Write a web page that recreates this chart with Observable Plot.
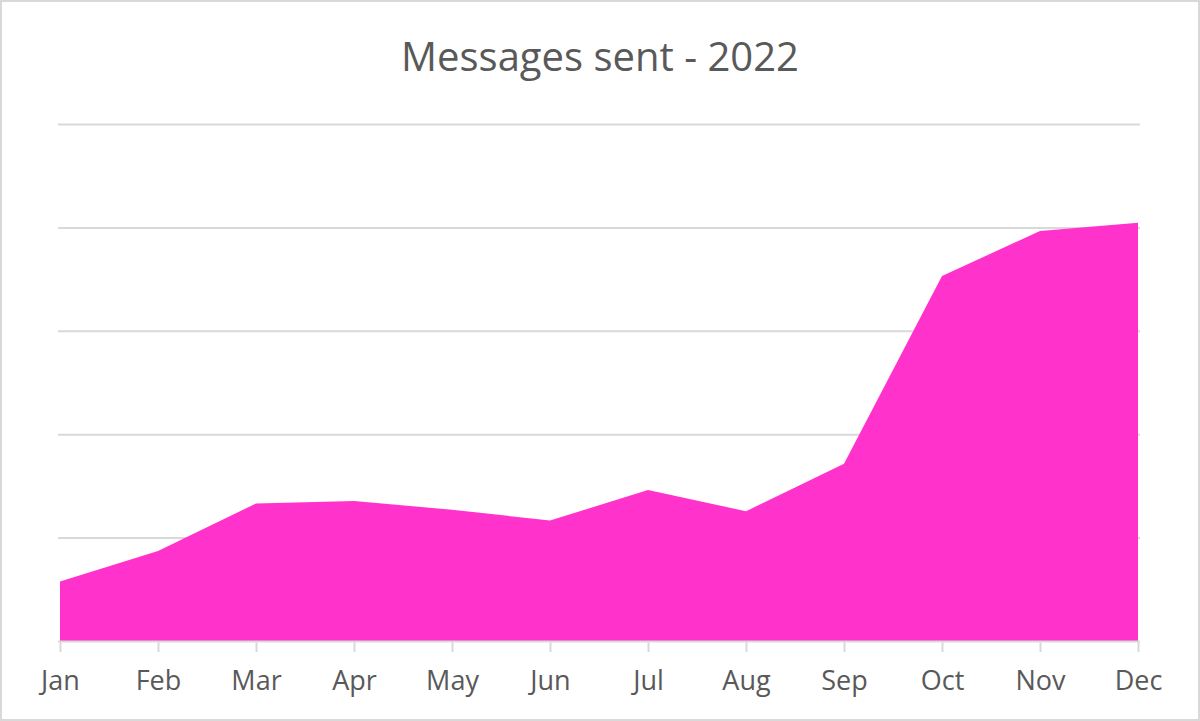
<!DOCTYPE html>
<html>
<head>
<meta charset="utf-8">
<script src="https://cdn.jsdelivr.net/npm/d3@7"></script>
<script src="https://cdn.jsdelivr.net/npm/@observablehq/plot@0.6"></script>
<style>
  html, body { margin: 0; padding: 0; background: #fff; }
  #frame { position: relative; width: 1200px; height: 721px; background: #fff; overflow: hidden; }
  #border {
    position: absolute; left: 0; top: 0; width: 1200px; height: 721px; box-sizing: border-box;
    border: 2px solid #d9d9d9; pointer-events: none;
  }
  #title {
    position: absolute; left: 0; top: 0; width: 1200px; height: 98px;
    text-align: center; font-family: "Open Sans", sans-serif; font-size: 40px;
    color: #595959; line-height: 111px;
  }
  #chart { position: absolute; left: 0; top: 98px; width: 1200px; }
  #chart svg { max-width: none; }
</style>
</head>
<body>
<div id="frame">
  <div id="title">Messages sent - 2022</div>
  <div id="chart"></div>
  <div id="border"></div>
</div>
<script>
const months = ["Jan","Feb","Mar","Apr","May","Jun","Jul","Aug","Sep","Oct","Nov","Dec"];
const messages = [11.5, 17.4, 26.6, 27.1, 25.4, 23.3, 29.2, 25.1, 34.3, 70.6, 79.3, 80.9];
const gridValues = [20, 40, 60, 80, 100];

const data = months.map((m, i) => ({month: m, value: messages[i]}));

const chart = Plot.plot({
  width: 1200,
  height: 621,
  marginTop: 26,
  marginBottom: 78,
  marginLeft: 58,
  marginRight: 60,
  style: {fontFamily: "'Open Sans', sans-serif", fontSize: "27px", color: "#595959", background: "transparent", maxWidth: "none"},
  x: {type: "point", domain: months, padding: 0, label: null},
  y: {domain: [0, 100], axis: null},
  marks: [
    Plot.ruleY(gridValues, {stroke: "#d9d9d9", strokeWidth: 2, strokeOpacity: 1}),
    Plot.areaY(data, {x: "month", y: "value", fill: "#ff33cc", fillOpacity: 1}),
    Plot.ruleY([0], {stroke: "#d9d9d9", strokeWidth: 2}),
    Plot.axisX({tickSize: 11, tickPadding: 18, stroke: "#d9d9d9", strokeWidth: 2, strokeOpacity: 1, fill: "#595959", label: null})
  ]
});
document.getElementById("chart").appendChild(chart);
</script>
</body>
</html>
